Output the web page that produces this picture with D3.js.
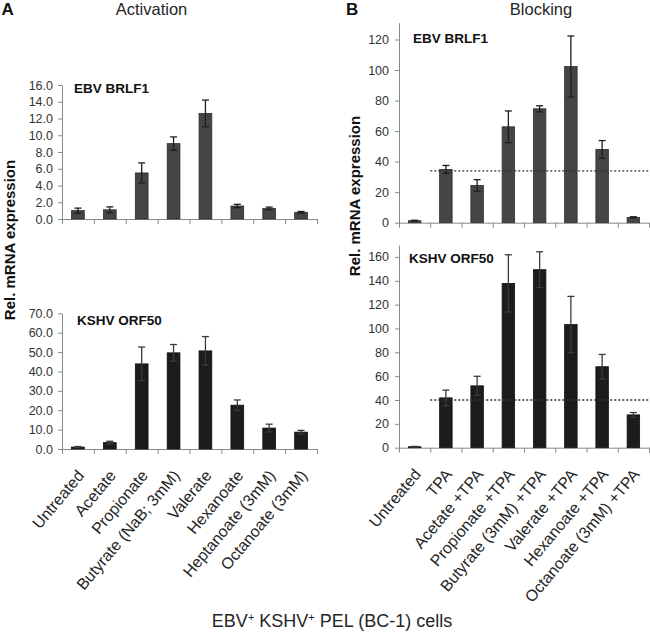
<!DOCTYPE html>
<html>
<head>
<meta charset="utf-8">
<script src="https://cdn.jsdelivr.net/npm/d3@7"></script>
<style>
  html, body { margin: 0; padding: 0; background: #fff; }
  svg { display: block; }
  text { font-family: "Liberation Sans", Arial, sans-serif; }
</style>
</head>
<body>
<svg id="chart" width="650" height="632"></svg>
<script>
// ---------------- data ----------------
const activationCategories = ["Untreated", "Acetate", "Propionate", "Butyrate (NaB; 3mM)", "Valerate", "Hexanoate", "Heptanoate (3mM)", "Octanoate (3mM)"];
const blockingCategories = ["Untreated", "TPA", "Acetate +TPA", "Propionate +TPA", "Butyrate (3mM) +TPA", "Valerate +TPA", "Hexanoate +TPA", "Octanoate (3mM) +TPA"];

const actBRLF1 = [1.0, 1.1, 5.5, 9.0, 12.6, 1.55, 1.27, 0.8];
const actBRLF1Err = [0.3, 0.35, 1.2, 0.8, 1.6, 0.2, 0.15, 0.1];
const actORF50 = [1.0, 3.3, 43.9, 49.6, 50.6, 22.6, 10.8, 8.7];
const actORF50Err = [0.3, 0.7, 8.7, 4.3, 7.4, 2.7, 2.0, 0.9];

const blkBRLF1 = [1.3, 34.9, 24.4, 62.8, 74.6, 102.3, 48.0, 3.5];
const blkBRLF1Err = [0.3, 2.6, 3.8, 10.4, 2.0, 20.0, 5.8, 0.4];
const blkORF50 = [0.8, 41.8, 51.9, 137.8, 149.3, 103.3, 67.9, 27.5];
const blkORF50Err = [0.3, 6.5, 8.0, 24.0, 15.0, 23.6, 10.3, 2.0];

const blkBRLF1Ref = 34;   // dotted reference line (TPA level)
const blkORF50Ref = 40;

const ticksActBRLF1 = [0, 2, 4, 6, 8, 10, 12, 14, 16];
const ticksActORF50 = [0, 10, 20, 30, 40, 50, 60, 70];
const ticksBlkBRLF1 = [0, 20, 40, 60, 80, 100, 120];
const ticksBlkORF50 = [0, 20, 40, 60, 80, 100, 120, 140, 160];

// ---------------- drawing ----------------
const svg = d3.select("#chart");
const AXIS = "#8a8a8a";
const TXT = "#262626";

function panel(o) {
  const g = svg.append("g");
  const x = d3.scaleBand().domain(o.cats).range(o.xr).padding(0);
  const y = d3.scaleLinear().domain([0, o.max]).range(o.yr);
  const bw = x.bandwidth() * 0.4;

  // x axis: line with ticks at band boundaries
  const xb = d3.scaleLinear().domain([0, o.cats.length]).range(o.xr);
  const xa = g.append("g").attr("transform", `translate(0,${o.yr[0]})`)
    .call(d3.axisBottom(xb).tickValues(d3.range(o.cats.length + 1)).tickFormat("").tickSize(5).tickSizeOuter(0));
  xa.selectAll("path, line").attr("stroke", AXIS).attr("stroke-width", 1);

  // y axis
  const ya = g.append("g").attr("transform", `translate(${o.xr[0]},0)`)
    .call(d3.axisLeft(y).tickValues(o.ticks).tickFormat(d3.format(o.fmt)).tickSize(4).tickSizeOuter(0).tickPadding(o.pad));
  ya.selectAll("path, line").attr("stroke", AXIS).attr("stroke-width", 1);
  ya.selectAll("text").attr("font-size", "12.5px").attr("fill", "#333");

  // bars
  g.selectAll("rect.bar").data(o.vals).join("rect")
    .attr("x", (d, i) => x(o.cats[i]) + (x.bandwidth() - bw) / 2)
    .attr("y", d => y(d))
    .attr("width", bw)
    .attr("height", d => y(0) - y(d))
    .attr("fill", o.fill).attr("stroke", o.stroke).attr("stroke-width", 0.8);

  // error bars
  const eg = g.append("g").attr("stroke", o.err).attr("stroke-width", 1.3).attr("fill", "none");
  o.vals.forEach((v, i) => {
    const cx = x(o.cats[i]) + x.bandwidth() / 2;
    const e = o.errs[i];
    eg.append("line").attr("x1", cx).attr("x2", cx).attr("y1", y(v + e)).attr("y2", y(v - e));
    eg.append("line").attr("x1", cx - 3.5).attr("x2", cx + 3.5).attr("y1", y(v + e)).attr("y2", y(v + e));
    eg.append("line").attr("x1", cx - 3.5).attr("x2", cx + 3.5).attr("y1", y(v - e)).attr("y2", y(v - e));
  });

  // reference line
  if (o.ref !== undefined) {
    g.append("line").attr("x1", x(o.cats[1])).attr("x2", 650)
      .attr("y1", y(o.ref)).attr("y2", y(o.ref))
      .attr("stroke", "#333").attr("stroke-width", 1.3).attr("stroke-dasharray", "2,2");
  }

  // gene label
  g.append("text").attr("x", o.lx).attr("y", o.ly).text(o.gene)
    .attr("font-size", "13.5px").attr("font-weight", "bold").attr("fill", "#111");

  // category labels
  if (o.labels) {
    g.selectAll("text.cat").data(o.cats).join("text")
      .attr("class", "cat")
      .attr("text-anchor", "end")
      .attr("font-size", "16px").attr("fill", TXT)
      .attr("transform", d => `translate(${x(d) + x.bandwidth() / 2 + 7},${o.yr[0] + 27}) rotate(-50)`)
      .text(d => d);
  }
}

panel({ cats: activationCategories, vals: actBRLF1, errs: actBRLF1Err, max: 16, ticks: ticksActBRLF1, fmt: ".1f", pad: 5,
  xr: [62, 317], yr: [219, 85], fill: "#454545", stroke: "#2e2e2e", err: "#1e1e1e", gene: "EBV BRLF1", lx: 74, ly: 93 });
panel({ cats: activationCategories, vals: actORF50, errs: actORF50Err, max: 70, ticks: ticksActORF50, fmt: ".1f", pad: 5,
  xr: [62, 317], yr: [449, 313.3], fill: "#1c1c1c", stroke: "#111", err: "#3a3a3a", gene: "KSHV ORF50", lx: 77, ly: 325, labels: true });
panel({ cats: blockingCategories, vals: blkBRLF1, errs: blkBRLF1Err, max: 131, ticks: ticksBlkBRLF1, fmt: "d", pad: 6,
  xr: [399, 649], yr: [222.7, 22.7], fill: "#454545", stroke: "#2e2e2e", err: "#1e1e1e", gene: "EBV BRLF1", lx: 413, ly: 43, ref: blkBRLF1Ref });
panel({ cats: blockingCategories, vals: blkORF50, errs: blkORF50Err, max: 170, ticks: ticksBlkORF50, fmt: "d", pad: 6,
  xr: [399, 649], yr: [447.7, 245], fill: "#1c1c1c", stroke: "#111", err: "#3a3a3a", gene: "KSHV ORF50", lx: 409, ly: 263, ref: blkORF50Ref, labels: true });

// panel letters and titles
svg.append("text").attr("x", 1.5).attr("y", 15).text("A").attr("font-size", "17px").attr("font-weight", "bold").attr("fill", "#111");
svg.append("text").attr("x", 346).attr("y", 15).text("B").attr("font-size", "17px").attr("font-weight", "bold").attr("fill", "#111");
svg.append("text").attr("x", 151.5).attr("y", 15).attr("text-anchor", "middle").text("Activation").attr("font-size", "16.5px").attr("fill", TXT);
svg.append("text").attr("x", 541).attr("y", 15).attr("text-anchor", "middle").text("Blocking").attr("font-size", "16.5px").attr("fill", TXT);

// y axis titles
svg.append("text").attr("transform", "translate(15,240) rotate(-90)").attr("text-anchor", "middle")
  .text("Rel. mRNA expression").attr("font-size", "15px").attr("font-weight", "bold").attr("fill", "#111");
svg.append("text").attr("transform", "translate(360,196) rotate(-90)").attr("text-anchor", "middle")
  .text("Rel. mRNA expression").attr("font-size", "15px").attr("font-weight", "bold").attr("fill", "#111");

// bottom title with superscripts
const t = svg.append("text").attr("x", 332).attr("y", 627).attr("text-anchor", "middle").attr("font-size", "18px").attr("fill", TXT);
t.append("tspan").text("EBV");
t.append("tspan").text("+").attr("font-size", "11px").attr("dy", -6);
t.append("tspan").text(" KSHV").attr("dy", 6);
t.append("tspan").text("+").attr("font-size", "11px").attr("dy", -6);
t.append("tspan").text(" PEL (BC-1) cells").attr("dy", 6);
</script>
</body>
</html>
